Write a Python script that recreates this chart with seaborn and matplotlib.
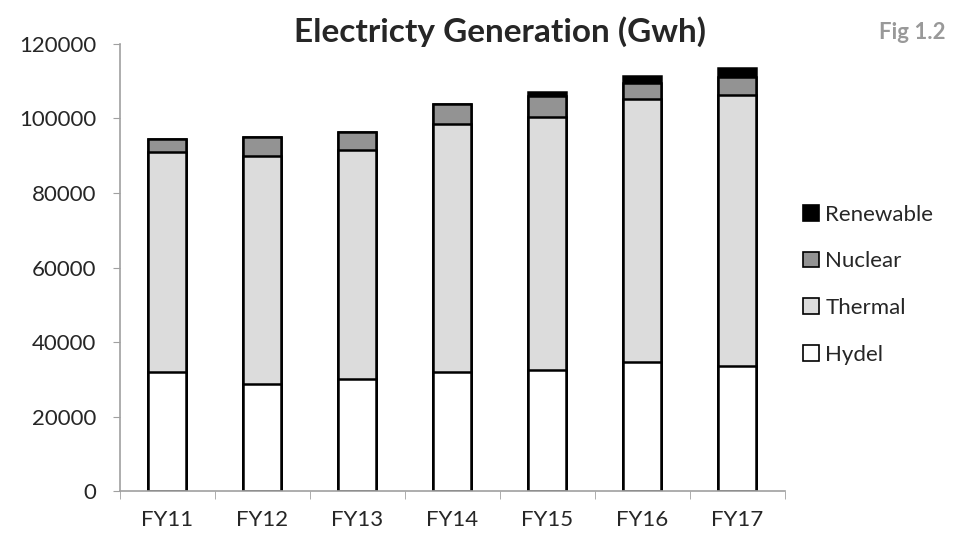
import numpy as np
import matplotlib
matplotlib.use('Agg')
import matplotlib.pyplot as plt
from matplotlib.patches import Patch
import seaborn as sns

# data (GWh)
years = ['FY11', 'FY12', 'FY13', 'FY14', 'FY15', 'FY16', 'FY17']
hydel = [31900, 28600, 30000, 31900, 32500, 34600, 33600]
thermal = [59200, 61300, 61500, 66700, 68000, 70600, 72800]
nuclear = [3300, 5200, 4800, 5200, 5500, 4400, 4800]
renewable = [0, 0, 0, 0, 1000, 1900, 2400]

sns.set_style('white')
plt.rcParams['font.family'] = ['Lato', 'DejaVu Sans']

fig = plt.figure(figsize=(9.62, 5.35), dpi=100)
ax = fig.add_axes([0.1247, 0.0822, 0.691, 0.8356])

# stacked bars: draw cumulative totals from the top layer down
c1 = np.array(hydel)
c2 = c1 + np.array(thermal)
c3 = c2 + np.array(nuclear)
c4 = c3 + np.array(renewable)
layers = [(c4, '#000000'), (c3, '#939393'), (c2, '#dcdcdc'), (c1, '#ffffff')]
for tot, col in layers:
    sns.barplot(x=years, y=tot, color=col, edgecolor='black', linewidth=1.8,
                width=0.4, saturation=1, ax=ax)

ax.set_ylim(0, 120000)
ax.set_xlim(-0.5, 6.5)
ax.set_yticks(range(0, 120001, 20000))
ax.tick_params(axis='y', length=5, color='#a0a0a0', labelsize=16, pad=12, left=True)
ax.tick_params(axis='x', which='major', length=0, labelsize=16, pad=14)
ax.set_xticks(np.arange(-0.5, 7, 1), minor=True)
ax.tick_params(axis='x', which='minor', length=6, color='#a0a0a0', bottom=True)
for s in ['top', 'right']:
    ax.spines[s].set_visible(False)
for s in ['left', 'bottom']:
    ax.spines[s].set_color('#a0a0a0')
    ax.spines[s].set_linewidth(1.2)

fig.text(0.52, 0.94, 'Electricty Generation (Gwh)', ha='center', va='center',
         fontsize=24, fontweight='bold')
fig.text(0.948, 0.94, 'Fig 1.2', ha='center', va='center', fontsize=16,
         fontweight='bold', color='#999999')

handles = [Patch(facecolor=c, edgecolor='black', linewidth=1.2) for c in
           ['#000000', '#939393', '#dcdcdc', '#ffffff']]
labels = ['Renewable', 'Nuclear', 'Thermal', 'Hydel']
fig.legend(handles, labels, loc='center left', bbox_to_anchor=(0.835, 0.468),
           frameon=False, fontsize=16, handlelength=0.7, handleheight=0.7,
           handletextpad=0.3, labelspacing=1.2, borderpad=0, borderaxespad=0)

fig.savefig('out.png', dpi=100)
